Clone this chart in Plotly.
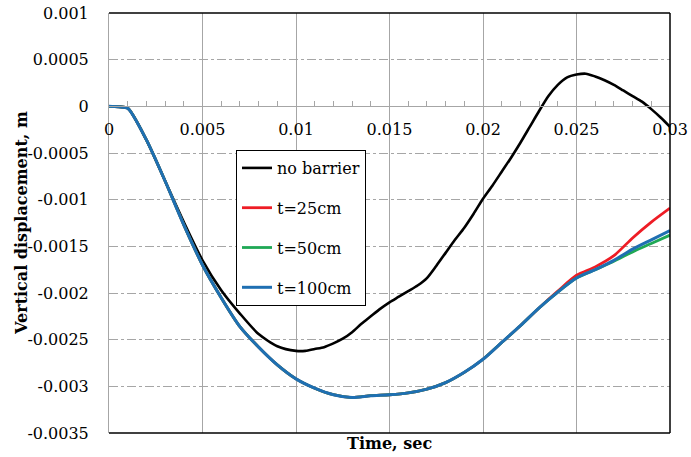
import plotly.graph_objects as go

# ---- data ----
time_s = [0, 0.0005, 0.001, 0.002, 0.003, 0.004, 0.005, 0.006, 0.007, 0.008, 0.009,
          0.010, 0.011, 0.012, 0.013, 0.014, 0.015, 0.016, 0.017, 0.018, 0.019,
          0.020, 0.021, 0.022, 0.023, 0.024, 0.025, 0.026, 0.027, 0.028, 0.029, 0.030]

time_nb = [0, 0.0005, 0.001, 0.002, 0.003, 0.004, 0.005, 0.006, 0.007, 0.008, 0.009,
           0.010, 0.0105, 0.011, 0.0115, 0.012, 0.0125, 0.013, 0.0135, 0.014, 0.0145, 0.015, 0.0155,
           0.016, 0.0165, 0.017, 0.0175, 0.018, 0.0185, 0.019, 0.0195, 0.020, 0.0205, 0.021, 0.0215,
           0.022, 0.0225, 0.023, 0.0235, 0.024, 0.0245, 0.025, 0.0255, 0.026, 0.0265, 0.027, 0.0275,
           0.028, 0.0285, 0.029, 0.0295, 0.030]

no_barrier = [0, -0.000005, -0.00002, -0.00036, -0.0008, -0.00124, -0.00165, -0.00197, -0.00222, -0.00244, -0.00257,
              -0.00262, -0.00262, -0.0026, -0.00258, -0.00254, -0.00249, -0.00242, -0.00233, -0.00225, -0.00217, -0.0021, -0.00204,
              -0.00198, -0.00192, -0.00184, -0.00171, -0.00157, -0.00143, -0.0013, -0.00115, -0.00099, -0.00085, -0.0007, -0.00055,
              -0.00039, -0.00022, -0.00005, 0.00011, 0.00023, 0.00031, 0.00034, 0.00035, 0.00032, 0.00028, 0.00023, 0.00017,
              0.00011, 0.00005, -0.00003, -0.00012, -0.00022]

t25cm = [0, -0.000005, -0.00002, -0.00036, -0.0008, -0.00127, -0.0017, -0.00205, -0.00236, -0.00258, -0.00277,
         -0.00292, -0.00302, -0.00309, -0.00312, -0.0031, -0.00309, -0.00307, -0.00303, -0.00296, -0.00285,
         -0.00271, -0.00253, -0.00235, -0.00216, -0.00198, -0.00181, -0.00172, -0.0016, -0.00141, -0.00124, -0.00109]

t50cm = [0, -0.000005, -0.00002, -0.00036, -0.0008, -0.00127, -0.0017, -0.00205, -0.00236, -0.00258, -0.00277,
         -0.00292, -0.00302, -0.00309, -0.00312, -0.0031, -0.00309, -0.00307, -0.00303, -0.00296, -0.00285,
         -0.00271, -0.00253, -0.00235, -0.00216, -0.00199, -0.00184, -0.00175, -0.00166, -0.00156, -0.00147, -0.00138]

t100cm = [0, -0.000005, -0.00002, -0.00036, -0.0008, -0.00127, -0.0017, -0.00205, -0.00236, -0.00258, -0.00277,
          -0.00292, -0.00302, -0.00309, -0.00312, -0.0031, -0.00309, -0.00307, -0.00303, -0.00296, -0.00285,
          -0.00271, -0.00253, -0.00235, -0.00216, -0.00199, -0.00184, -0.00175, -0.00165, -0.00153, -0.00143, -0.00133]

x_ticks = [0, 0.005, 0.01, 0.015, 0.02, 0.025, 0.03]
x_tick_labels = ["0", "0.005", "0.01", "0.015", "0.02", "0.025", "0.03"]
y_ticks = [0.001, 0.0005, 0, -0.0005, -0.001, -0.0015, -0.002, -0.0025, -0.003, -0.0035]
y_tick_labels = ["0.001", "0.0005", "0", "-0.0005", "-0.001", "-0.0015", "-0.002", "-0.0025", "-0.003", "-0.0035"]

series_names = ["no barrier", "t=25cm", "t=50cm", "t=100cm"]
series_times = [time_nb, time_s, time_s, time_s]
series_values = [no_barrier, t25cm, t50cm, t100cm]
series_colors = ["#000000", "#ee1c25", "#1fa855", "#1f6fb2"]
series_widths = [2.6, 2.8, 2.8, 3.0]

FONT = "DejaVu Serif, serif"
Y_MIN, Y_MAX = -0.0035, 0.001

fig = go.Figure()
for i, (name, ts, vals, col, w) in enumerate(zip(series_names, series_times, series_values, series_colors, series_widths)):
    fig.add_trace(go.Scatter(
        x=ts, y=vals, mode="lines", name=name,
        line=dict(color=col, width=w, shape="spline", smoothing=0.7),
        legendgroup=f"g{i}",
    ))

zero_pos = (0 - Y_MIN) / (Y_MAX - Y_MIN)

fig.update_layout(
    width=691, height=457,
    margin=dict(l=109, r=21, t=13, b=24, autoexpand=False),
    paper_bgcolor="white", plot_bgcolor="white",
    font=dict(family=FONT, size=16, color="black"),
    showlegend=True,
    legend=dict(
        x=0.2264, y=0.6738, xanchor="left", yanchor="top",
        bgcolor="white", bordercolor="black", borderwidth=1,
        font=dict(family=FONT, size=16, color="black"),
        tracegroupgap=16, traceorder="grouped",
        itemwidth=30,
    ),
    xaxis=dict(
        range=[0, 0.03], anchor="free", position=zero_pos,
        tickmode="array", tickvals=x_ticks, ticktext=x_tick_labels,
        showgrid=True, gridcolor="#a6a6a6", gridwidth=1,
        showline=True, linecolor="#a6a6a6", linewidth=1,
        ticks="inside", ticklen=5, tickcolor="#a6a6a6",
        minor=dict(dtick=0.001, tick0=0, ticks="inside", ticklen=5, tickcolor="#a6a6a6", showgrid=False),
        ticklabelstandoff=8,
        zeroline=False,
        tickfont=dict(family=FONT, size=16, color="black"),
    ),
    yaxis=dict(
        range=[Y_MIN, Y_MAX],
        tickmode="array", tickvals=y_ticks, ticktext=y_tick_labels,
        showgrid=True, gridcolor="#a6a6a6", gridwidth=1, griddash="dashdot",
        showline=True, linecolor="#a6a6a6", linewidth=1,
        ticks="", zeroline=False,
        ticklabelstandoff=16,
        tickfont=dict(family=FONT, size=16, color="black"),
    ),
    annotations=[
        dict(text="<b>Vertical displacement, m</b>", xref="paper", yref="paper",
             x=-0.157, y=0.5, xanchor="center", yanchor="middle", textangle=-90,
             showarrow=False, font=dict(family=FONT, size=16, color="black")),
        dict(text="<b>Time, sec</b>", xref="paper", yref="paper",
             x=0.5, y=-0.024, xanchor="center", yanchor="middle",
             showarrow=False, font=dict(family=FONT, size=16, color="black")),
    ],
    shapes=[
        dict(type="line", xref="paper", yref="paper", x0=0, x1=1, y0=1, y1=1,
             line=dict(color="black", width=1.5)),
        dict(type="line", xref="paper", yref="paper", x0=1, x1=1, y0=0, y1=1,
             line=dict(color="black", width=1.5)),
        dict(type="line", xref="paper", yref="paper", x0=0, x1=1, y0=0, y1=0,
             line=dict(color="black", width=1.5)),
    ],
)

fig.write_html("out.html")
